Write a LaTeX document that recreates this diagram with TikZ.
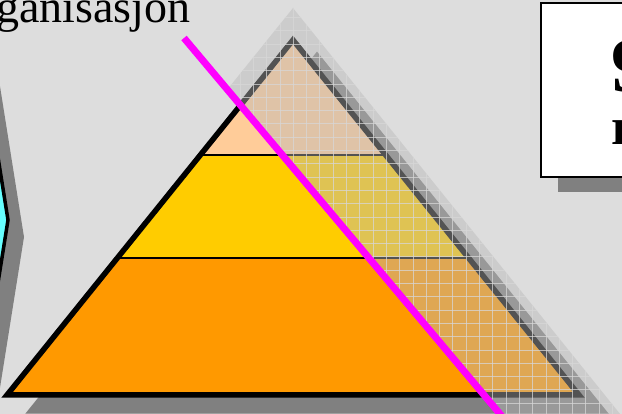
\documentclass[tikz,border=0pt]{standalone}
\usepackage{fontspec}
\setmainfont{Liberation Serif}
\usetikzlibrary{calc}
\definecolor{bgc}{RGB}{221,221,221}
\definecolor{peach}{RGB}{255,204,153}
\definecolor{yellowc}{RGB}{255,204,0}
\definecolor{orangec}{RGB}{255,153,0}
\definecolor{shadowc}{RGB}{128,128,128}
\definecolor{cyanc}{RGB}{102,255,255}
\definecolor{veilc}{RGB}{185,185,185}
\definecolor{gridc}{RGB}{215,215,215}
\definecolor{magentac}{RGB}{255,0,255}
\tikzset{
  outline/.style={draw=black, line width=5.5pt, line join=miter},
  divider/.style={draw=black, line width=2pt},
  shadowfill/.style={fill=shadowc, draw=shadowc, line width=5.5pt, line join=miter},
  veil/.style={fill=veilc, opacity=0.45},
  gridline/.style={draw=gridc, line width=0.9pt, opacity=0.75},
  cutline/.style={draw=magentac, line width=7pt},
  bigtext/.style={inner sep=0pt, font=\fontsize{46}{55}\selectfont},
  boxtextA/.style={inner sep=0pt, font=\bfseries\fontsize{77}{90}\selectfont},
  boxtextB/.style={inner sep=0pt, font=\bfseries\fontsize{52}{62}\selectfont}
}
\begin{document}
\begin{tikzpicture}[x=1pt,y=-1pt]
\useasboundingbox (0,0) rectangle (622,414);
\clip (0,0) rectangle (622,414);
\fill[bgc] (0,0) rectangle (622,414);

% pyramid geometry
\coordinate (A) at (293,40);
\coordinate (L) at (7,395);
\coordinate (R) at (579,395);
\coordinate (l1) at ($(A)!0.324!(L)$);
\coordinate (r1) at ($(A)!0.324!(R)$);
\coordinate (l2) at ($(A)!0.614!(L)$);
\coordinate (r2) at ($(A)!0.614!(R)$);
% shadow corners
\coordinate (As) at (317,56);
\coordinate (Ls) at (31,411);
\coordinate (Rs) at (603,411);

% pyramid shadow
\path[shadowfill] (As) -- (Ls) -- (Rs) -- cycle;

% layers
\fill[peach] (A) -- (l1) -- (r1) -- cycle;
\fill[yellowc] (l1) -- (r1) -- (r2) -- (l2) -- cycle;
\fill[orangec] (l2) -- (r2) -- (R) -- (L) -- cycle;
\draw[divider] (l1) -- (r1);
\draw[divider] (l2) -- (r2);
\draw[outline] (A) -- (L) -- (R) -- cycle;

% left arrow shape
\begin{scope}[shift={(16,17)}]
\fill[shadowc] (-35,-50) -- (8,220) -- (-35,490) -- (-100,490) -- (-100,-50) -- cycle;
\end{scope}
\filldraw[fill=cyanc, draw=black, line width=3.5pt, line join=miter] (-35,-50) -- (8,220) -- (-35,490) -- (-100,490) -- (-100,-50) -- cycle;

% title text
\node[bigtext, anchor=base east] (title) at (190.5,23) {Organisasjon};

% top-right box
\fill[shadowc] (558,18) rectangle (660,192);
\filldraw[fill=white, draw=black, line width=2pt] (541,3) rectangle (650,177);
\node[boxtextA, anchor=base west] (b1) at (611.5,92) {9};
\node[boxtextB, anchor=base west] (b2) at (611,145) {r};

% veil over the right part
\coordinate (m1) at (184,38);
\coordinate (m2) at (500,414);
\begin{scope}
\clip (143.7,-10) -- (513.4,430) -- (700,430) -- (700,-10) -- cycle;
\clip (293,8) -- (633,430) -- (-47,430) -- cycle;
\fill[veil] (0,0) rectangle (622,414);
\foreach \i in {0,...,47} \draw[gridline] ({0.7+13.3*\i},0) -- ++(0,414);
\foreach \j in {0,...,31} \draw[gridline] (0,{4.2+13.3*\j}) -- ++(622,0);
\end{scope}

% cut line
\draw[cutline] (m1) -- ($(m1)!1.05!(m2)$);
\end{tikzpicture}
\end{document}
